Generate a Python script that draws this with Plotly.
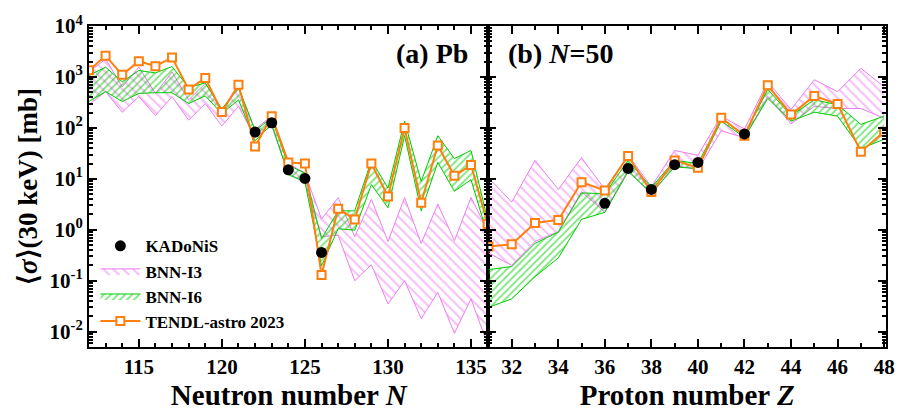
import numpy as np
import plotly.graph_objects as go

# ---------------- data ----------------
N_pb = list(range(112, 137))
tendl_pb = [1350, 2600, 1100, 2040, 1630, 2410, 570, 955, 205, 700, 43, 170, 21, 20,
            0.13, 2.6, 1.6, 20, 4.5, 100, 3.4, 45, 11.5, 18.6, 1.3]
i3_pb_lo = [285, 515, 203, 410, 175, 410, 142, 300, 109, 265, 65, 109, 13, 8.4,
            0.73, 0.78, 0.1, 0.206, 0.035, 0.1, 0.018, 0.059, 0.0093, 0.044, 0.0056]
i3_pb_hi = [1250, 2240, 640, 1560, 475, 1250, 355, 745, 228, 595, 94, 170, 20, 13,
            1.63, 4.25, 0.73, 3.95, 0.59, 4.3, 0.54, 3.2, 0.61, 4.3, 0.96]
i6_pb_lo = [330, 515, 330, 475, 490, 490, 300, 425, 190, 355, 56, 118, 12, 8.8,
            0.195, 1.05, 0.98, 7.7, 2.7, 70, 2.35, 21, 5.7, 9.6, 0.77]
i6_pb_hi = [1075, 1560, 800, 1340, 1200, 1600, 620, 765, 235, 640, 88, 158, 18.6, 13,
            0.67, 2.35, 2.35, 23, 6.6, 136, 8.9, 70, 25, 36, 1.56]
kad_pb_N = [122, 123, 124, 125, 126]
kad_pb = [83, 126, 15, 10.2, 0.36]
kad_pb_err = [6, 22, 1.2, 0.8, 0.05]

Z_n50 = list(range(31, 49))
tendl_n50 = [0.47, 0.52, 1.36, 1.56, 8.6, 5.9, 28, 5.5, 23, 16.5, 158, 70, 690, 183, 425, 295, 34, 84]
i3_n50_lo = [0.35, 0.20, 0.59, 0.92, 5.6, 2.2, 15, 4.9, 18.6, 15, 88, 64, 415, 120, 265, 240, 240, 155]
i3_n50_hi = [10.5, 3.5, 23, 6.2, 26, 6.2, 29, 7.0, 36, 29, 170, 95, 800, 230, 880, 515, 1480, 640]
i6_n50_lo = [0.030, 0.044, 0.12, 0.28, 1.6, 2.2, 13.8, 5.3, 17, 16, 136, 65, 380, 136, 203, 170, 39, 60]
i6_n50_hi = [0.165, 0.19, 0.54, 0.9, 5.3, 5.1, 23, 6.8, 23, 20, 150, 75, 570, 175, 355, 285, 117, 170]
kad_n50_Z = [36, 37, 38, 39, 40, 42]
kad_n50 = [3.3, 16, 6.2, 19, 21, 76]
kad_n50_err = [0.3, 1.5, 0.5, 1.5, 2, 9]

y_tickvals = [1e-2, 1e-1, 1e0, 1e1, 1e2, 1e3, 1e4]
y_ticktext = ['10<sup>-2</sup>', '10<sup>-1</sup>', '10<sup>0</sup>', '10<sup>1</sup>',
              '10<sup>2</sup>', '10<sup>3</sup>', '10<sup>4</sup>']

PINK = '#ee7cee'
GREEN = '#00cc00'
ORANGE = '#ff7f0e'
FONT = 'Liberation Serif'

fig = go.Figure()


def add_panel(x, lo3, hi3, lo6, hi6, tendl, kx, ky, kerr, xa, ya, show):
    fig.add_trace(go.Scatter(x=x, y=lo3, mode='lines', line=dict(color=PINK, width=1),
                             showlegend=False, xaxis=xa, yaxis=ya, hoverinfo='skip'))
    fig.add_trace(go.Scatter(x=x, y=hi3, mode='lines', line=dict(color=PINK, width=1),
                             fill='tonexty', fillcolor='rgba(0,0,0,0)',
                             fillpattern=dict(shape='\\', fgcolor=PINK, bgcolor='rgba(0,0,0,0)',
                                              size=7, solidity=0.28, fillmode='overlay'),
                             name='BNN-I3', legendrank=2, showlegend=show, xaxis=xa, yaxis=ya))
    fig.add_trace(go.Scatter(x=x, y=lo6, mode='lines', line=dict(color=GREEN, width=1),
                             showlegend=False, xaxis=xa, yaxis=ya, hoverinfo='skip'))
    fig.add_trace(go.Scatter(x=x, y=hi6, mode='lines', line=dict(color=GREEN, width=1),
                             fill='tonexty', fillcolor='rgba(0,0,0,0)',
                             fillpattern=dict(shape='/', fgcolor=GREEN, bgcolor='rgba(0,0,0,0)',
                                              size=5, solidity=0.35, fillmode='overlay'),
                             name='BNN-I6', legendrank=3, showlegend=show, xaxis=xa, yaxis=ya))
    fig.add_trace(go.Scatter(x=x, y=tendl, mode='lines+markers',
                             line=dict(color=ORANGE, width=2),
                             marker=dict(symbol='square', size=8, color='white',
                                         line=dict(color=ORANGE, width=2)),
                             name='TENDL-astro 2023', legendrank=4, showlegend=show,
                             xaxis=xa, yaxis=ya))
    fig.add_trace(go.Scatter(x=kx, y=ky, mode='markers',
                             marker=dict(symbol='circle', size=11, color='black'),
                             error_y=dict(type='data', array=kerr, color='black', thickness=1.2, width=4),
                             name='KADoNiS', legendrank=1, showlegend=show, xaxis=xa, yaxis=ya))


add_panel(N_pb, i3_pb_lo, i3_pb_hi, i6_pb_lo, i6_pb_hi, tendl_pb, kad_pb_N, kad_pb, kad_pb_err,
          'x', 'y', True)
add_panel(Z_n50, i3_n50_lo, i3_n50_hi, i6_n50_lo, i6_n50_hi, tendl_n50, kad_n50_Z, kad_n50,
          kad_n50_err, 'x2', 'y2', False)

minor_y = [m * 10.0 ** e for e in range(-3, 4) for m in range(2, 10)]
axis_common = dict(showline=True, linewidth=2, linecolor='black', mirror='ticks',
                   ticks='inside', ticklen=8, tickwidth=1.5, tickcolor='black',
                   showgrid=False, zeroline=False,
                   tickfont=dict(family=FONT, size=21, color='black', weight='bold'))

split = 0.5012
fig.update_layout(
    width=907, height=416,
    margin=dict(l=89, r=14, t=16, b=69),
    paper_bgcolor='white', plot_bgcolor='white',
    font=dict(family=FONT, color='black', weight='bold'),
    xaxis=dict(domain=[0, split], range=[112, 136.05], tickvals=[115, 120, 125, 130, 135],
               minor=dict(ticks='inside', ticklen=4, dtick=1, tick0=112, tickcolor='black'),
               title=dict(text='Neutron number <i>N</i>', font=dict(family=FONT, size=29, weight='bold'),
                          standoff=2),
               anchor='y', **axis_common),
    xaxis2=dict(domain=[split, 1], range=[31, 48.08], tickvals=list(range(32, 49, 2)),
                minor=dict(ticks='inside', ticklen=4, dtick=1, tick0=31, tickcolor='black'),
                title=dict(text='Proton number <i>Z</i>', font=dict(family=FONT, size=29, weight='bold'),
                           standoff=2),
                anchor='y2', **axis_common),
    yaxis=dict(type='log', range=[np.log10(0.005), 4], tickvals=y_tickvals, ticktext=y_ticktext,
               minor=dict(ticks='inside', ticklen=4, tickmode='array', tickvals=minor_y, tickcolor='black'),
               title=dict(text='⟨<i>σ</i>⟩(30 keV) [mb]', font=dict(family=FONT, size=27, weight='bold'),
                          standoff=4),
               anchor='x', **axis_common),
    yaxis2=dict(type='log', range=[np.log10(0.005), 4], tickvals=y_tickvals, showticklabels=False,
                minor=dict(ticks='inside', ticklen=4, tickmode='array', tickvals=minor_y, tickcolor='black'),
                anchor='x2', **axis_common),
    legend=dict(x=0.008, y=0.37, xanchor='left', yanchor='top', bgcolor='rgba(0,0,0,0)',
                font=dict(family=FONT, size=17, color='black', weight='bold'),
                traceorder='normal', tracegroupgap=0, itemwidth=40),
    annotations=[
        dict(text='(a) Pb', xref='paper', yref='paper', x=0.478, y=0.915, xanchor='right', yanchor='middle',
             showarrow=False, font=dict(family=FONT, size=28, color='black', weight='bold')),
        dict(text='(b) <i>N</i>=50', xref='paper', yref='paper', x=0.523, y=0.915, xanchor='left',
             yanchor='middle', showarrow=False, font=dict(family=FONT, size=28, color='black', weight='bold')),
    ],
)

fig.write_html('out.html')
